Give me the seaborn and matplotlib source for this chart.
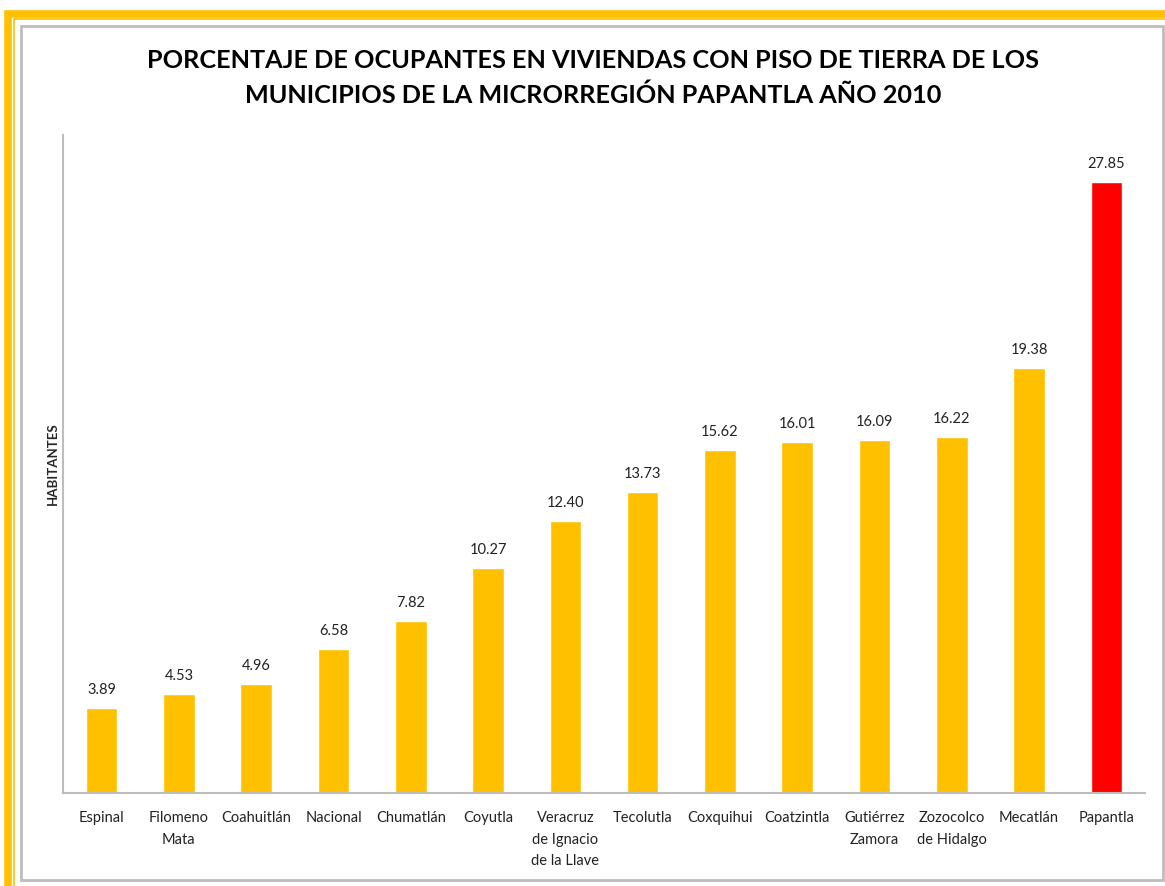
import matplotlib
matplotlib.use("Agg")
import matplotlib.pyplot as plt
import seaborn as sns
import pandas as pd
from matplotlib.patches import Rectangle

# data
municipios = ["Espinal", "Filomeno\nMata", "Coahuitlán", "Nacional", "Chumatlán",
              "Coyutla", "Veracruz\nde Ignacio\nde la Llave", "Tecolutla",
              "Coxquihui", "Coatzintla", "Gutiérrez\nZamora", "Zozocolco\nde Hidalgo",
              "Mecatlán", "Papantla"]
porcentaje = [3.89, 4.53, 4.96, 6.58, 7.82, 10.27, 12.40, 13.73,
              15.62, 16.01, 16.09, 16.22, 19.38, 27.85]
colores = ["#FFC000"] * 13 + ["#FF0000"]

sns.set_theme(style="white")
plt.rcParams['font.family'] = ['Lato', 'DejaVu Sans']

df = pd.DataFrame({"municipio": municipios, "valor": porcentaje})

fig = plt.figure(figsize=(11.65, 8.86), dpi=100)
W, H = 1165, 886

# outer orange frame (top/left visible) and inner grey chart frame
fig.patches.append(Rectangle((7.5 / W, -0.1), 1.2, (H - 13.5) / H + 0.1,
                             transform=fig.transFigure, fill=False,
                             edgecolor="#FFC000", lw=5.5))
fig.patches.append(Rectangle((13.5 / W, -0.1), 1.2, (H - 19) / H + 0.1,
                             transform=fig.transFigure, fill=False,
                             edgecolor="#FFC000", lw=1.2))
fig.patches.append(Rectangle((21 / W, 6 / H), 1142 / W, 854 / H,
                             transform=fig.transFigure, fill=False,
                             edgecolor="#BDBDBD", lw=2))

ax = fig.add_axes([63 / W, (H - 793) / H, (1145 - 63) / W, (793 - 135) / H])
sns.barplot(data=df, x="municipio", y="valor", hue="municipio",
            palette=colores, width=0.41, legend=False, ax=ax, saturation=1)

for c in ax.containers:
    ax.bar_label(c, fmt="%.2f", padding=8, fontsize=10.5, color="#222222")

ax.set_ylim(0, 30)
ax.set_xlim(-0.5, 13.5)
ax.set_yticks([])
ax.set_xlabel("")
ax.set_ylabel("HABITANTES", fontsize=9.5, fontweight="bold", labelpad=3)
ax.tick_params(axis="x", length=0, pad=13, labelsize=10.5, colors="#222222")
for lbl in ax.get_xticklabels():
    lbl.set_verticalalignment("top")
    lbl.set_linespacing(1.7)

for s in ["top", "right"]:
    ax.spines[s].set_visible(False)
for s in ["left", "bottom"]:
    ax.spines[s].set_color("#BDBDBD")
    ax.spines[s].set_linewidth(1.5)

fig.text(593 / W, 1 - 78 / H,
         "PORCENTAJE DE OCUPANTES EN VIVIENDAS CON PISO DE TIERRA DE LOS\n"
         "MUNICIPIOS DE LA MICRORREGIÓN PAPANTLA AÑO 2010",
         ha="center", va="center", fontsize=18.2, fontweight="bold",
         linespacing=1.6, color="black")

fig.savefig("out.png", dpi=100)
